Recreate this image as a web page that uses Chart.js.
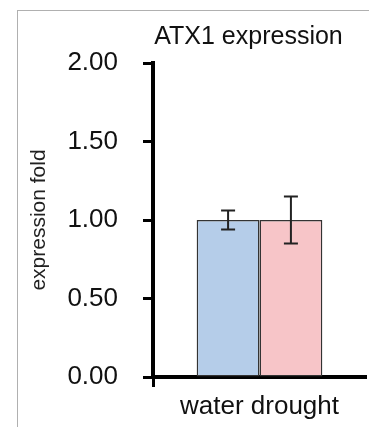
<!DOCTYPE html>
<html>
<head>
<meta charset="utf-8">
<script src="https://cdn.jsdelivr.net/npm/chart.js@4.4.0/dist/chart.umd.min.js"></script>
<style>
    html, body { margin: 0; padding: 0; background: #fff; overflow: hidden; }
    #wrap { position: relative; width: 369px; height: 427px; }
    #frame {
        position: absolute; left: 17px; top: 10px; right: -5px; bottom: -5px;
        border-left: 1px solid #b0b0b0; border-top: 1px solid #b0b0b0;
        pointer-events: none;
    }
    canvas { position: absolute; left: 0; top: 0; }
</style>
</head>
<body>
<div id="wrap">
    <canvas id="chart" width="369" height="427"></canvas>
    <div id="frame"></div>
</div>
<script>
// ========== DATA ==========
const conditions = ['water', 'drought'];
const means = [1.00, 1.00];
const errors = [0.06, 0.15];
const yTicks = [0, 0.5, 1, 1.5, 2];

const barColors = ['#b5cde9', '#f7c5c8'];
const FONT = "'Liberation Sans', Arial, Helvetica, sans-serif";

// ========== ERROR BARS ==========
const errorBars = {
    id: 'errorBars',
    afterDatasetsDraw(chart) {
        const ctx = chart.ctx;
        const y = chart.scales.y;
        ctx.save();
        ctx.strokeStyle = '#222';
        ctx.lineWidth = 2;
        chart.data.datasets.forEach((ds, i) => {
            const bar = chart.getDatasetMeta(i).data[0];
            const top = y.getPixelForValue(means[i] + errors[i]);
            const bot = y.getPixelForValue(means[i] - errors[i]);
            const cap = 7;
            ctx.beginPath();
            ctx.moveTo(bar.x, top); ctx.lineTo(bar.x, bot);
            ctx.moveTo(bar.x - cap, top); ctx.lineTo(bar.x + cap, top);
            ctx.moveTo(bar.x - cap, bot); ctx.lineTo(bar.x + cap, bot);
            ctx.stroke();
        });
        ctx.restore();
    }
};

// title sits a bit left of the plot centre in the original
const titleNudge = {
    id: 'titleNudge',
    afterLayout(chart) {
        if (chart.titleBlock) chart.titleBlock.right -= 22;
    }
};

// ========== CHART ==========
new Chart(document.getElementById('chart'), {
    type: 'bar',
    data: {
        labels: [conditions.join(' ')],
        datasets: conditions.map((c, i) => ({
            label: c,
            data: [means[i]],
            backgroundColor: barColors[i],
            borderColor: '#333',
            borderWidth: 1.5,
            borderSkipped: false
        }))
    },
    options: {
        responsive: false,
        animation: false,
        layout: { padding: { left: 17, right: 3, top: 0, bottom: 0 } },
        plugins: {
            legend: { display: false },
            tooltip: { enabled: false },
            title: {
                display: true,
                text: 'ATX1 expression',
                fullSize: false,
                color: '#111',
                font: { family: FONT, size: 25, weight: 'normal' },
                padding: { top: 22, bottom: 11 }
            }
        },
        datasets: { bar: { categoryPercentage: 0.59, barPercentage: 1.0 } },
        scales: {
            x: {
                grid: {
                    drawOnChartArea: false,
                    tickLength: 10,
                    tickWidth: 3,
                    tickColor: (c) => c.index === 0 ? '#000' : 'rgba(0,0,0,0)'
                },
                border: { display: true, color: '#000', width: 4 },
                ticks: { color: '#111', padding: 4, font: { family: FONT, size: 26 } },
                afterFit: (s) => { s.height = 50; }
            },
            y: {
                min: 0,
                max: 2,
                afterBuildTicks: (s) => { s.ticks = yTicks.map(v => ({ value: v })); },
                grid: {
                    drawOnChartArea: false,
                    tickLength: 10,
                    tickWidth: 3,
                    tickColor: '#000'
                },
                border: { display: true, color: '#000', width: 4 },
                ticks: {
                    color: '#111',
                    padding: 25,
                    font: { family: FONT, size: 26 },
                    callback: (v) => Number(v).toFixed(2)
                },
                title: {
                    display: true,
                    text: 'expression fold',
                    color: '#222',
                    font: { family: FONT, size: 21 },
                    padding: { top: 10, bottom: 0 }
                },
                afterFit: (s) => { s.width = 136; }
            }
        }
    },
    plugins: [errorBars, titleNudge]
});
</script>
</body>
</html>
